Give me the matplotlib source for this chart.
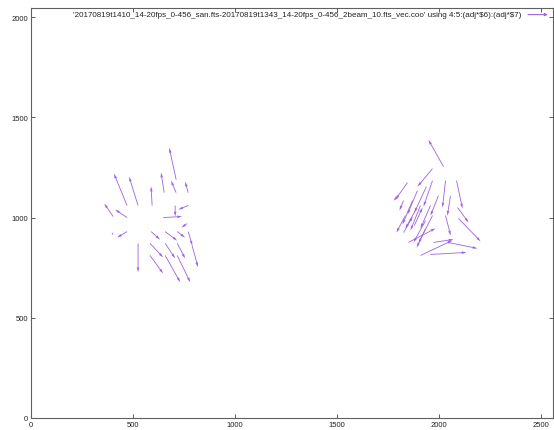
import matplotlib
matplotlib.use("Agg")
import matplotlib.pyplot as plt
import numpy as np

# vector data: tail x, tail y, dx, dy (data units)
x_tail = [712, 471, 525, 594, 653, 712, 771, 403, 471, 771, 707, 648, 766, 398,
          471, 525, 589, 658, 717, 771, 790, 584, 658, 717, 584, 658, 717,
          2023, 1969, 1846, 1802, 2033, 2087, 1969, 1939, 1895, 1871, 1836, 1910,
          1959, 1969, 1935, 1851, 1910, 1974, 2043, 1959, 2097, 2092, 2033, 1827, 1880,
          1998, 1885, 1935, 1827, 2057]
y_tail = [1189, 1060, 1060, 1060, 1124, 1124, 1124, 1005, 1000, 1060, 1060, 1000, 970, 915,
          930, 871, 930, 930, 930, 930, 861, 871, 871, 871, 811, 811, 811,
          1254, 1244, 1174, 1109, 1184, 1184, 1184, 1154, 1134, 1085, 1010, 1060,
          1060, 1010, 985, 876, 811, 876, 876, 816, 995, 1050, 1010, 925, 960,
          1109, 1035, 945, 1085, 1109]
dx = [-34, -64, -44, -5, -15, -25, -15, -44, -59, -49, 0, 93, -29, 5,
      -49, 0, 44, 59, 39, 20, 29, 64, 49, 39, 64, 74, 64,
      -74, -74, -59, -25, -15, 29, -44, -59, -49, -49, -44, -49,
      -49, -69, -59, 133, 157, 98, 147, 177, 108, 54, 25, 45, 40,
      -39, -49, -44, -20, -15]
dy = [159, 159, 144, 95, 100, 60, 55, 65, 40, -20, -55, 5, -20, 12,
      -30, -144, -40, -45, -30, -70, -109, -70, -75, -75, -90, -134, -134,
      134, -90, -85, -25, -134, -139, -129, -129, -119, -119, -85, -124,
      -114, -139, -109, 70, 75, 15, -30, 10, -114, -75, -100, 80, 90,
      -100, -90, -95, -50, -100]

x_ticks = [0, 500, 1000, 1500, 2000, 2500]
y_ticks = [0, 500, 1000, 1500, 2000]
legend_label = ("'20170819t1410_14-20fps_0-456_san.fts-20170819t1343_14-20fps_0-456_2beam_10.fts_vec.coo' "
                "using 4:5:(adj*$6):(adj*$7)")

color = "#9d62e2"

fig = plt.figure(figsize=(5.54, 4.31), dpi=100)
ax = fig.add_axes([31/554, 12/431, 522/554, 410.5/431])

ax.quiver(x_tail, y_tail, dx, dy, angles="xy", scale_units="xy", scale=1,
          color=color, width=0.0016, headwidth=3.2, headlength=6, headaxislength=5.5,
          minlength=0.1)

ax.set_xlim(0, 2560)
ax.set_ylim(0, 2048)
ax.set_xticks(x_ticks)
ax.set_yticks(y_ticks)
ax.tick_params(direction="in", length=3, width=0.6, color="#404040",
               top=True, right=True, labelsize=5.5, pad=2)
for lab in ax.get_xticklabels() + ax.get_yticklabels():
    lab.set_family("Liberation Sans")
    lab.set_color("#222222")
for s in ax.spines.values():
    s.set_color("#606060")
    s.set_linewidth(0.8)

ax.text(0.9387, 0.9827, legend_label, transform=ax.transAxes, ha="right", va="center",
        fontsize=5.75, family="Liberation Sans", color="#222222", parse_math=False)
ax.annotate("", xy=(0.990, 0.9827), xytext=(0.952, 0.9827),
            xycoords="axes fraction", textcoords="axes fraction",
            arrowprops=dict(arrowstyle="-|>", color=color, lw=0.8,
                            mutation_scale=4, shrinkA=0, shrinkB=0))

fig.savefig("out.png", dpi=100)
